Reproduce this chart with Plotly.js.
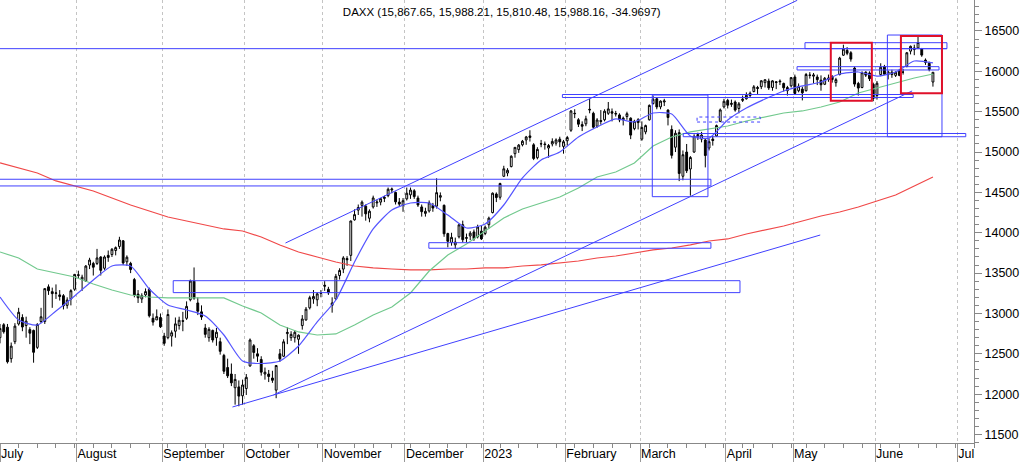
<!DOCTYPE html>
<html><head><meta charset="utf-8">
<script src="https://cdn.plot.ly/plotly-3.0.1.min.js"></script>
<style>html,body{margin:0;padding:0;background:#fff}#chart{width:1024px;height:462px}</style>
</head><body><div id="chart"></div>
<script>
// ---- data ----
const titleText = 'DAXX (15,867.65, 15,988.21, 15,810.48, 15,988.16, -34.9697)';
const firstDay = '2022-07-01';
const lastDay = '2023-06-22';
const holidays = ['2022-12-26','2023-04-07','2023-04-10','2023-05-01'];

const openP = [
// Jul
12700,12860,12830,12440,12650,12870,12950,12850,12800,12790,12580,12900,12900,13330,13270,13250,13230,13220,13100,13180,13300,
// Aug
13470,13420,13400,13600,13620,13620,13700,13560,13720,13730,13780,13830,13900,13640,13620,13420,13240,13180,13230,13300,12940,12920,12950,
// Sep
12720,12700,12720,12780,12850,12910,12940,13170,13400,13130,13020,12820,12700,12790,12700,12650,12480,12330,12250,12080,12090,11980,
// Oct
12070,12350,12600,12500,12430,12250,12250,12200,12050,12500,12470,12750,12700,12700,12680,12850,12920,13070,13180,13170,13250,
// Nov
13350,13300,13100,13180,13470,13550,13680,13720,14160,14280,14340,14330,14180,14320,14370,14380,14440,14460,14530,14500,14380,14340,
// Dec
14420,14470,14520,14430,14320,14240,14270,14340,14330,14440,14340,13990,13880,13850,13950,14100,13930,13960,14010,13950,14020,
// Jan
13990,14100,14250,14480,14440,14700,14740,14820,14980,15030,15090,15150,15200,15090,14930,15100,15100,15050,15100,15110,15160,15070,
// Feb
15140,15270,15480,15400,15340,15350,15530,15480,15320,15390,15400,15480,15500,15470,15460,15420,15440,15420,15290,15400,
// Mar
15160,15250,15400,15600,15660,15560,15620,15520,15280,15060,15240,14700,15000,14790,15000,15190,15160,15150,15050,15160,15200,15380,15560,
// Apr
15640,15590,15620,15540,15640,15660,15700,15750,15800,15810,15860,15880,15800,15870,15880,15850,15760,15820,
// May
15930,15760,15780,15760,15950,15940,15930,15890,15840,15900,15940,15860,15960,16200,16260,16230,16040,15850,15800,15990,15980,15840,
// Jun
15700,15960,16060,15960,15990,15950,16000,15990,16060,16250,16270,16290,16280,16140,16100,15867.65
];
const highP = [
12870,12880,12870,12640,12880,13070,12990,12960,12830,12800,12880,13070,13310,13360,13320,13360,13290,13240,13200,13300,13490,
13530,13480,13600,13690,13640,13800,13710,13720,13780,13810,13830,13950,13910,13720,13640,13440,13290,13250,13310,13320,13000,13050,13000,
12760,13050,12790,12950,12960,13020,13150,13420,13570,13200,13100,12870,12830,12800,12820,12700,12500,12440,12380,12250,12170,12180,
12250,12690,12620,12570,12470,12330,12300,12290,12360,12560,12680,12830,12780,12790,12740,12980,13080,13220,13290,13260,13290,
13400,13330,13200,13490,13560,13710,13710,14150,14290,14350,14400,14350,14290,14460,14410,14430,14460,14560,14560,14510,14430,14430,
14560,14560,14540,14460,14350,14310,14400,14370,14675,14500,14350,14000,14000,13940,14110,14150,13990,14020,14040,14100,14090,
14090,14200,14500,14500,14620,14830,14800,14960,15060,15100,15150,15200,15270,15110,15060,15150,15130,15100,15170,15170,15190,15150,
15200,15520,15530,15420,15380,15450,15660,15500,15420,15520,15530,15620,15540,15510,15480,15440,15500,15430,15400,15420,
15380,15340,15590,15700,15670,15640,15660,15530,15330,15270,15280,15020,15100,14950,15220,15240,15250,15160,15170,15200,15340,15540,15660,
15660,15650,15640,15620,15700,15740,15750,15830,15820,15890,15900,15910,15890,15880,15900,15860,15820,15930,
15960,15850,15810,15980,15990,15980,15960,15950,15930,15960,15950,15920,16180,16330,16300,16250,16060,15870,16000,16000,16000,15860,
15880,16100,16080,16010,16020,16000,16030,16030,16240,16320,16330,16430,16290,16160,16120,15988.21
];
const lowP = [
12630,12750,12380,12390,12620,12850,12780,12700,12620,12390,12560,12880,12870,13230,13070,13180,13160,13050,13060,13100,13280,
13430,13280,13390,13550,13470,13600,13470,13540,13640,13700,13720,13800,13600,13590,13500,13200,13130,13130,13200,12950,12850,12920,12820,
12600,12680,12590,12700,12800,12780,12920,13150,13170,12980,12920,12700,12650,12640,12600,12490,12250,12200,12100,11870,11850,11870,
11990,12340,12440,12400,12230,12180,12150,12140,11950,12400,12460,12620,12660,12640,12500,12800,12910,13050,13120,13090,13200,
13280,13230,13010,13170,13420,13500,13590,13650,14150,14220,14200,14150,14130,14300,14320,14340,14380,14440,14490,14350,14330,14260,
14400,14420,14420,14320,14200,14200,14250,14260,14300,14390,13950,13820,13840,13800,13930,13880,13880,13910,13900,13930,13910,
13970,14050,14240,14380,14410,14690,14700,14810,14930,14990,15070,15090,15130,14900,14910,15060,15030,14930,15070,15080,15060,14980,
15080,15250,15420,15310,15260,15320,15480,15290,15300,15340,15380,15460,15380,15440,15370,15330,15400,15160,15270,15280,
15140,15220,15390,15590,15530,15530,15570,15330,14920,15000,14640,14650,14740,14460,14990,15150,15120,14810,15020,15080,15190,15370,15540,
15540,15560,15500,15480,15620,15650,15670,15740,15720,15780,15800,15770,15760,15780,15830,15750,15700,15800,
15710,15740,15640,15750,15910,15850,15830,15760,15830,15870,15860,15810,15950,16190,16200,16120,15810,15700,15790,15930,15880,15630,
15650,15940,15960,15900,15920,15930,15940,15960,16050,16210,16200,16280,16180,16080,16000,15810.48
];
const closeP = [
12813,12773,12401,12595,12843,13015,12832,12905,12756,12519,12864,12959,13308,13282,13246,13254,13211,13096,13166,13282,13484,
13479,13449,13587,13662,13573,13688,13534,13700,13694,13795,13816,13910,13626,13697,13544,13230,13194,13220,13271,12971,12893,12961,12835,
12630,12987,12761,12871,12916,12904,13088,13402,13189,13028,12956,12741,12803,12671,12767,12531,12284,12227,12140,12183,11976,12114,
12209,12671,12517,12471,12273,12272,12219,12172,12355,12438,12649,12765,12741,12767,12731,12931,13053,13196,13211,13243,13254,
13339,13256,13130,13460,13533,13688,13666,14146,14225,14313,14379,14234,14267,14431,14380,14422,14428,14539,14541,14383,14355,14397,
14490,14529,14448,14344,14261,14265,14371,14306,14497,14460,13987,13894,13943,13885,14098,13914,13940,13995,13926,14071,13924,
14069,14181,14490,14436,14610,14792,14774,14948,15058,15086,15134,15187,15181,14920,15033,15103,15093,15081,15132,15150,15126,15128,
15180,15509,15476,15345,15320,15412,15523,15308,15397,15380,15506,15534,15482,15478,15398,15400,15475,15210,15381,15365,
15305,15328,15578,15654,15559,15631,15633,15428,14959,15233,14735,14967,14768,14933,15195,15217,15210,14957,15128,15143,15328,15522,15629,
15581,15603,15520,15597,15655,15703,15729,15808,15789,15883,15896,15795,15882,15863,15872,15796,15800,15922,
15726,15815,15734,15961,15953,15955,15897,15834,15914,15917,15898,15897,16164,16275,16224,16152,15842,15793,15983,15953,15909,15664,
15853,16051,15964,15993,15960,15989,15950,15990,16230,16310,16290,16357,16201,16111,16023,15988.16
];

// moving averages, weekly samples
const maDates = ['2022-07-01','2022-07-08','2022-07-15','2022-07-22','2022-07-29','2022-08-05','2022-08-12','2022-08-19','2022-08-26',
'2022-09-02','2022-09-09','2022-09-16','2022-09-23','2022-09-30','2022-10-07','2022-10-14','2022-10-21','2022-10-28','2022-11-04',
'2022-11-11','2022-11-18','2022-11-25','2022-12-02','2022-12-09','2022-12-16','2022-12-23','2023-01-02','2023-01-09','2023-01-16',
'2023-01-23','2023-01-30','2023-02-06','2023-02-13','2023-02-20','2023-02-27','2023-03-06','2023-03-13','2023-03-20','2023-03-27',
'2023-04-03','2023-04-12','2023-04-19','2023-04-26','2023-05-04','2023-05-11','2023-05-18','2023-05-25','2023-06-01','2023-06-08',
'2023-06-15','2023-06-22'];
const maShort = [13204,12919,12857,13031,13217,13415,13588,13588,13303,13105,13043,12969,12733,12411,12380,12411,12597,12895,13167,13638,
14047,14282,14369,14369,14220,14059,14109,14344,14679,14902,15001,15187,15311,15410,15373,15484,15472,15199,15174,15397,15546,15657,
15757,15819,15868,15967,15992,15942,15992,16128,16104];
const maMid = [13762,13687,13551,13502,13452,13365,13291,13229,13204,13192,13192,13192,13192,13093,13006,12857,12771,12733,12746,12857,
12981,13080,13254,13526,13725,13861,14022,14183,14295,14369,14443,14555,14691,14753,14865,15075,15187,15249,15286,15323,15385,15434,
15484,15509,15558,15620,15732,15794,15856,15918,15967];
const maLong = [14865,14803,14741,14642,14580,14518,14431,14344,14270,14195,14146,14096,14047,14022,13948,13849,13762,13700,13638,13588,
13564,13551,13539,13539,13551,13551,13564,13564,13588,13601,13626,13650,13687,13712,13749,13787,13811,13849,13898,13923,13985,14034,
14084,14146,14208,14257,14319,14394,14468,14580,14691];

// analyst drawings: [start, end, low, high]
const zoneBoxes = [
  ['2022-07-01 00:00','2023-03-28 00:00',14580,14663],
  ['2022-12-09 10:00','2023-03-28 00:00',13808,13877],
  ['2022-09-05 22:00','2023-04-06 19:00',13258,13406],
  ['2023-01-31 05:00','2023-06-15 05:00',15676,15713],
  ['2023-03-06 07:00','2023-03-27 05:00',14447,15707],
  ['2023-03-16 14:00','2023-07-05 07:00',15190,15230],
  ['2023-05-03 02:00','2023-06-26 03:00',16017,16058],
  ['2023-05-05 05:00','2023-06-28 06:00',16281,16355],
  ['2023-06-06 07:00','2023-06-26 22:00',15190,16450]
];
const dottedBoxes = [['2023-03-22 07:00','2023-04-18 05:00',15372,15434]];
const redBoxes = [
  ['2023-05-16 03:00','2023-05-31 03:00',15636,16355],
  ['2023-06-09 22:00','2023-06-26 22:00',15728,16438]
];
// [date0, value0, date1, value1]
const trendLines = [
  ['2022-07-01 00:00',16281,'2023-06-28 06:00',16281],
  ['2022-10-18 00:00',13873,'2023-05-03 03:00',16880],
  ['2022-10-12 19:00',11990,'2023-06-14 22:00',15757],
  ['2022-09-27 19:00',11841,'2023-05-11 07:00',13972]
];

const monthTickDates = ['2022-07-01 12:00','2022-08-01','2022-09-01','2022-10-03','2022-11-01','2022-12-01','2023-01-02',
  '2023-02-01','2023-03-01','2023-04-03','2023-05-02','2023-06-01','2023-07-03'];
const monthTickText = ['July','August','September','October','November','December','2023','February','March','April','May','June','Jul'];

// ---- build ----
function tradingDates() {
  const out = [];
  let t = Date.parse(firstDay + 'T00:00:00Z');
  const end = Date.parse(lastDay + 'T00:00:00Z');
  while (t <= end) {
    const d = new Date(t), wd = d.getUTCDay(), s = d.toISOString().slice(0,10);
    if (wd !== 0 && wd !== 6 && holidays.indexOf(s) < 0) out.push(s + ' 12:00');
    t += 864e5;
  }
  return out;
}
const dates = tradingDates();
const maX = maDates.map(d => d + ' 12:00');

const BLUE = '#4040ff';
const traces = [
  {type:'scatter', mode:'lines', x:maX, y:maLong, line:{color:'#f04848', width:1.2}, hoverinfo:'skip'},
  {type:'scatter', mode:'lines', x:maX, y:maMid, line:{color:'#72c98e', width:1.2}, hoverinfo:'skip'},
  {type:'scatter', mode:'lines', x:maX, y:maShort, line:{color:'#5555ff', width:1.2, shape:'spline', smoothing:0.6}, hoverinfo:'skip'},
  {type:'candlestick', x:dates, open:openP, high:highP, low:lowP, close:closeP,
   increasing:{line:{color:'#000', width:1}, fillcolor:'#ffffff'},
   decreasing:{line:{color:'#000', width:1}, fillcolor:'#000000'},
   whiskerwidth:0, hoverinfo:'skip'}
];

const shapes = [];
zoneBoxes.forEach(b => shapes.push({type:'rect', xref:'x', yref:'y', x0:b[0], x1:b[1], y0:b[2], y1:b[3],
  line:{color:BLUE, width:1}, fillcolor:'rgba(0,0,0,0)', layer:'above'}));
dottedBoxes.forEach(b => shapes.push({type:'rect', xref:'x', yref:'y', x0:b[0], x1:b[1], y0:b[2], y1:b[3],
  line:{color:BLUE, width:1, dash:'dot'}, fillcolor:'rgba(0,0,0,0)', layer:'above'}));
trendLines.forEach(l => shapes.push({type:'line', xref:'x', yref:'y', x0:l[0], y0:l[1], x1:l[2], y1:l[3],
  line:{color:BLUE, width:1}, layer:'above'}));
redBoxes.forEach(b => shapes.push({type:'rect', xref:'x', yref:'y', x0:b[0], x1:b[1], y0:b[2], y1:b[3],
  line:{color:'#e0102a', width:2}, fillcolor:'rgba(0,0,0,0)', layer:'above'}));

const layout = {
  width:1024, height:462,
  margin:{l:0, r:50, t:0, b:19, pad:0},
  paper_bgcolor:'#ffffff', plot_bgcolor:'#ffffff',
  showlegend:false,
  font:{family:'"Liberation Sans", Arial, sans-serif', size:12, color:'#000'},
  title:{text:titleText, font:{size:11.5, color:'#000'}, xref:'container', x:0.49, xanchor:'center',
         yref:'container', y:1 - 12/462, yanchor:'middle'},
  xaxis:{
    type:'date',
    range:['2022-07-01 12:00','2023-07-07 12:00'],
    rangebreaks:[{bounds:['sat','mon']}, {values:holidays}],
    rangeslider:{visible:false},
    tickmode:'array', tickvals:monthTickDates, ticktext:monthTickText,
    ticks:'outside', ticklen:19, tickwidth:1, tickcolor:'#999',
    ticklabelposition:'outside right', ticklabelstandoff:-1, ticklabelshift:0,
    tickfont:{size:12.5, color:'#000'},
    showgrid:true, gridcolor:'#c4c4c4', griddash:'dot', gridwidth:1,
    showline:true, linecolor:'#888', linewidth:1, zeroline:false,
    minor:{tick0:'2022-07-08 12:00', dtick:7*864e5, ticks:'outside', ticklen:4, tickcolor:'#888', showgrid:false},
    fixedrange:true
  },
  yaxis:{
    side:'right', range:[11395, 16884],
    tick0:0, dtick:500, tickformat:'d',
    ticks:'outside', ticklen:7, tickcolor:'#888', tickwidth:1,
    tickfont:{size:12.5, color:'#000'},
    showgrid:false, zeroline:false, showline:true, linecolor:'#888', linewidth:1,
    minor:{dtick:100, ticks:'outside', ticklen:4, tickcolor:'#888', showgrid:false},
    fixedrange:true
  },
  shapes:shapes
};

Plotly.newPlot('chart', traces, layout, {staticPlot:true, displayModeBar:false});
</script>
</body></html>
